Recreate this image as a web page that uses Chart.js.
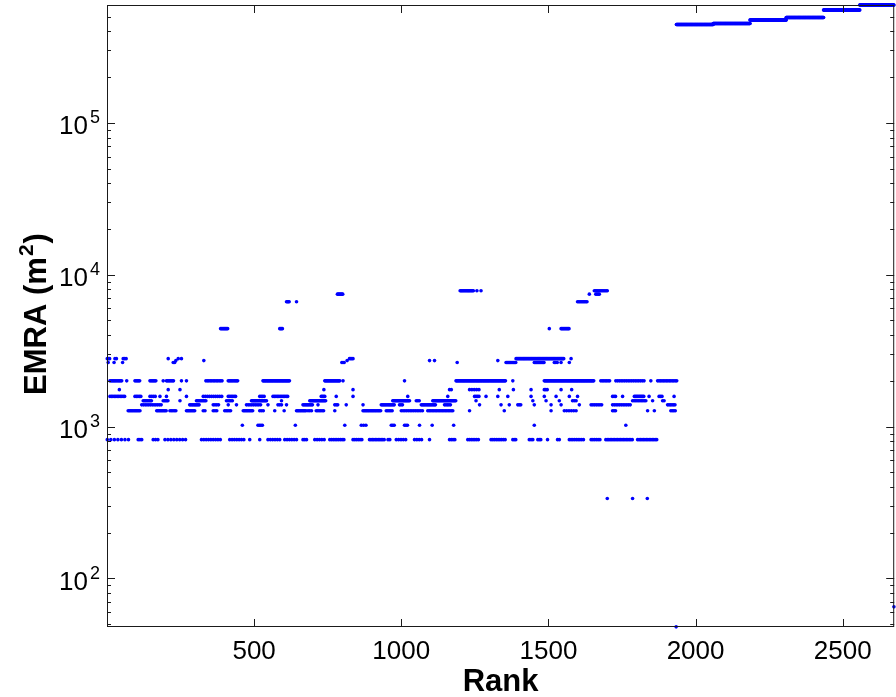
<!DOCTYPE html>
<html lang="en">
<head>
    <meta charset="UTF-8">
    <title>EMRA vs Rank</title>
    <style>
        body { margin: 0; padding: 0; background: #ffffff; }
        canvas { display: block; }
    </style>
    <script src="https://cdn.jsdelivr.net/npm/chart.js"></script>
</head>
<body>
    <canvas id="chartCanvas" width="896" height="697"></canvas>
    <script>
        // tick labels
        const xTickValues = [500, 1000, 1500, 2000, 2500];
        const yTickExponents = [2, 3, 4, 5];

        // EMRA levels (m^2) read from the picture, and the rank runs where dots sit on each
        // a run is [start, end, spacing] or a single rank
        const runs820 = [[1, 78, 12], [106, 118, 6], [157, 174, 8], [197, 276, 10], [321, 389, 8], [417, 468, 8],
            485, 519, [547, 587, 8], [604, 644, 8], [666, 683, 6], [706, 740, 8], [757, 808, 6], [836, 870, 6],
            [892, 943, 5], [955, 966, 6], [983, 1017, 8], [1045, 1073, 8], 1096, [1164, 1186, 6], [1226, 1266, 6],
            [1305, 1356, 6], [1379, 1390, 5], [1435, 1447, 6], [1464, 1475, 5], 1497, [1531, 1537, 6],
            [1571, 1622, 6], [1645, 1678, 6], [1695, 1786, 5], [1803, 1871, 5]];
        const runs1020 = [460, [513, 530, 5], 640, 808, [864, 887, 8], [966, 977, 5], [1011, 1022, 5], 1062, 1105,
            1178, 1452, 1763];
        const runs1270 = [[72, 112, 4], [169, 202, 4], [214, 236, 5], [270, 299, 4], [327, 338, 6], [361, 378, 6],
            [400, 423, 5], [463, 496, 4], [519, 536, 6], 570, 602, [644, 678, 4], [683, 700, 6], [711, 740, 5], 774,
            [870, 932, 4], [949, 972, 5], [1000, 1073, 6], [1090, 1175, 5], 1232, 1350, 1509, [1554, 1599, 8],
            [1718, 1729, 5], 1837, 1860, [1916, 1933, 5]];
        const runs1390 = [[118, 185, 6], [281, 316, 4], [361, 383, 6], 412, 440, [474, 525, 6], 547, [581, 593, 6],
            610, [666, 700, 4], 717, [774, 785, 5], 813, 870, [932, 977, 4], [994, 1005, 5], [1068, 1119, 4],
            [1147, 1170, 5], 1266, 1339, 1367, [1396, 1407, 5], 1452, 1509, 1543, 1605, [1645, 1684, 6],
            [1718, 1780, 6], [1905, 1933, 5]];
        const runs1480 = [[123, 152, 4], [191, 208, 4], 248, [304, 338, 4], [406, 429, 5], [491, 542, 3], 593,
            [689, 745, 3], [971, 1028, 3], [1051, 1062, 5], [1107, 1186, 3], 1254, 1447, 1492, 1537,
            [1582, 1599, 6], [1786, 1831, 5], 1854, [1888, 1893, 5]];
        const runs1580 = [[10, 61, 5], [95, 118, 5], [146, 169, 6], 180, 202, 270, [327, 395, 7], [412, 440, 5],
            [519, 536, 5], [564, 615, 5], [728, 740, 4], 779, 836, 1022, 1158, [1249, 1266, 5], 1288, 1328, 1362,
            1441, 1486, 1526, 1571, 1599, [1718, 1729, 5], 1752, [1792, 1826, 4], 1842, [1876, 1888, 5], 1927];
        const runs1750 = [42, 208, 248, 737, 836, [1164, 1170, 6], [1232, 1266, 8], 1333, 1381, 1441,
            [1486, 1497, 5], 1543, 1579];
        const runs2000 = [[10, 50, 4], 67, [95, 112, 4], [146, 169, 4], 191, [202, 227, 4], 253, 270, [336, 395, 5],
            [412, 446, 4], [530, 621, 3], [740, 791, 3], 802, 1011, [1186, 1356, 3], 1379, [1486, 1656, 3],
            [1678, 1712, 5], [1729, 1826, 6], 1848, [1871, 1939, 5]];
        const runs2640 = [4, 24, 53, [225, 230, 5], [798, 807, 4], 1190, [1356, 1390, 3], [1452, 1486, 3],
            [1520, 1531, 5], 1543, 1571];
        const runs2720 = [234, 329, 816, 1096, 1113, 1328];
        const runs2800 = [[1, 10, 4], [27, 33, 5], [55, 67, 5], 208, 242, 253, [824, 839, 4], [1390, 1554, 3], 1577];
        const runs4415 = [[386, 412, 3], [587, 598, 3], 1503, [1543, 1571, 3]];
        const runs6640 = [[610, 621, 3], 644, [1599, 1633, 4]];
        const runs7450 = [[783, 802, 3], 1639, [1661, 1673, 4]];
        const runs7850 = [[1200, 1245, 3], 1257, 1271, [1656, 1701, 4]];
        const runs336 = [1700, 1786, 1836];
        const runs65 = [2674];
        const runs48 = [1934];

        const levelValues = [820, 1020, 1270, 1390, 1480, 1580, 1750, 2000, 2640, 2720, 2800, 4415, 6640, 7450, 7850, 336, 65, 48];
        const levelRuns = [runs820, runs1020, runs1270, runs1390, runs1480, runs1580, runs1750, runs2000, runs2640,
            runs2720, runs2800, runs4415, runs6640, runs7450, runs7850, runs336, runs65, runs48];

        // upper group: step values and their rank ranges
        const topValues = [444000, 451000, 476000, 494000, 554000, 597000];
        const topRanges = [[1935, 2060], [2060, 2185], [2185, 2308], [2308, 2435], [2435, 2558], [2558, 2674]];

        function expandRuns(runs, value) {
            const pts = [];
            runs.forEach(r => {
                if (typeof r === 'number') { pts.push({ x: r, y: value }); return; }
                const step = r[2] || 3;
                for (let k = r[0]; k <= r[1]; k += step) pts.push({ x: k, y: value });
            });
            return pts;
        }

        const cloudPoints = [];
        levelValues.forEach((v, i) => cloudPoints.push(...expandRuns(levelRuns[i], v)));
        const topPoints = [];
        topValues.forEach((v, i) => topPoints.push(...expandRuns([[topRanges[i][0], topRanges[i][1], 1]], v)));

        const font = '"Liberation Sans", Arial, sans-serif';

        // MATLAB-like box, inward ticks and labels, placed with the chart's own scales
        const axesBox = {
            id: 'axesBox',
            afterDatasetsDraw(chart) {
                const { ctx, chartArea: a, scales: { x, y } } = chart;
                ctx.save();
                ctx.strokeStyle = '#1a1a1a';
                ctx.lineWidth = 1;
                ctx.strokeRect(a.left + 0.5, a.top + 0.5, a.right - a.left - 1, a.bottom - a.top - 1);

                ctx.beginPath();
                xTickValues.forEach(v => {
                    const px = Math.round(x.getPixelForValue(v)) + 0.5;
                    ctx.moveTo(px, a.bottom); ctx.lineTo(px, a.bottom - 8);
                    ctx.moveTo(px, a.top); ctx.lineTo(px, a.top + 8);
                });
                for (let e = 1; e <= 5; e++) {
                    for (let m = 1; m <= 9; m++) {
                        const v = m * Math.pow(10, e);
                        if (v < y.min || v > y.max) continue;
                        const py = Math.round(y.getPixelForValue(v)) + 0.5;
                        const len = m === 1 ? 8 : 4;
                        ctx.moveTo(a.left, py); ctx.lineTo(a.left + len, py);
                        ctx.moveTo(a.right, py); ctx.lineTo(a.right - len, py);
                    }
                }
                ctx.stroke();

                ctx.fillStyle = '#000';
                ctx.font = '26px ' + font;
                ctx.textAlign = 'center';
                ctx.textBaseline = 'alphabetic';
                xTickValues.forEach(v => ctx.fillText(String(v), x.getPixelForValue(v), a.bottom + 32));

                yTickExponents.forEach(e => {
                    const py = y.getPixelForValue(Math.pow(10, e));
                    ctx.font = '26px ' + font;
                    ctx.textAlign = 'right';
                    ctx.fillText('10', 88, py + 11.5);
                    ctx.font = '18px ' + font;
                    ctx.textAlign = 'left';
                    ctx.fillText(String(e), 90, py + 0.5);
                });

                // axis titles
                ctx.font = 'bold 31px ' + font;
                ctx.textAlign = 'center';
                ctx.fillText('Rank', (a.left + a.right) / 2, 691);

                ctx.translate(46, 315);
                ctx.rotate(-Math.PI / 2);
                const main = 'EMRA (m';
                const sup = '2';
                const tail = ')';
                ctx.font = 'bold 31px ' + font;
                const w1 = ctx.measureText(main).width;
                const w3 = ctx.measureText(tail).width;
                ctx.font = 'bold 21px ' + font;
                const w2 = ctx.measureText(sup).width;
                let sx = -(w1 + w2 + w3) / 2;
                ctx.textAlign = 'left';
                ctx.font = 'bold 31px ' + font;
                ctx.fillText(main, sx, 0);
                ctx.font = 'bold 21px ' + font;
                ctx.fillText(sup, sx + w1 + 1, -13);
                ctx.font = 'bold 31px ' + font;
                ctx.fillText(tail, sx + w1 + w2 + 2, 0);
                ctx.restore();
            }
        };

        const ctx = document.getElementById('chartCanvas').getContext('2d');
        new Chart(ctx, {
            type: 'scatter',
            data: {
                datasets: [{
                    data: cloudPoints,
                    backgroundColor: '#0000ff',
                    borderWidth: 0,
                    pointRadius: 1.8,
                    pointHoverRadius: 0,
                    clip: false
                }, {
                    data: topPoints,
                    backgroundColor: '#0000ff',
                    borderWidth: 0,
                    pointRadius: 1.8,
                    pointHoverRadius: 0,
                    clip: false
                }]
            },
            options: {
                responsive: false,
                animation: false,
                layout: { padding: { left: 107, right: 1, top: 5, bottom: 70 } },
                plugins: { legend: { display: false }, tooltip: { enabled: false } },
                scales: {
                    x: { type: 'linear', min: 0, max: 2675, display: false },
                    y: { type: 'logarithmic', min: 47.9, max: 597000, display: false }
                }
            },
            plugins: [axesBox]
        });
    </script>
</body>
</html>
